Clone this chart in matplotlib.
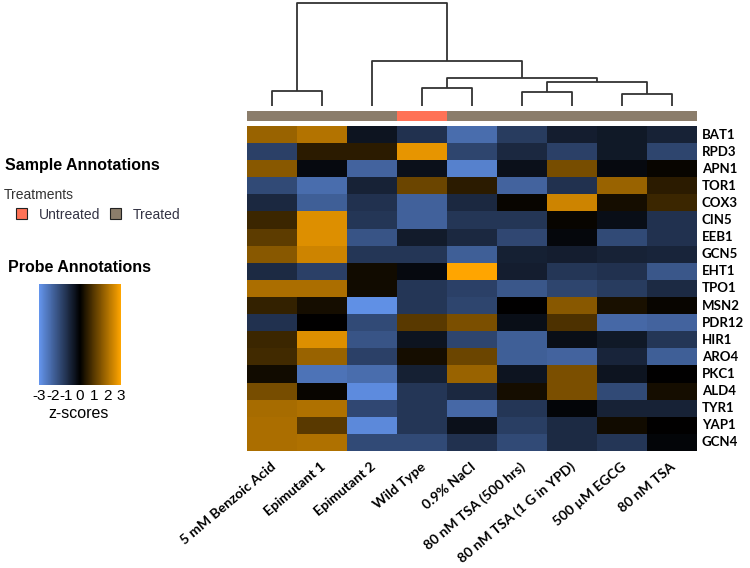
import numpy as np
import matplotlib
matplotlib.use("Agg")
import matplotlib.pyplot as plt
from matplotlib.colors import LinearSegmentedColormap, ListedColormap
from matplotlib.cm import ScalarMappable
from matplotlib.colors import Normalize
from matplotlib.patches import Rectangle

W, H = 750, 568

samples = [
    "5 mM Benzoic Acid",
    "Epimutant 1",
    "Epimutant 2",
    "Wild Type",
    "0.9% NaCl",
    "80 nM TSA (500 hrs)",
    "80 nM TSA (1 G in YPD)",
    "500 \u00b5M EGCG",
    "80 nM TSA",
]
treatments = ["Treated", "Treated", "Treated", "Untreated", "Treated",
              "Treated", "Treated", "Treated", "Treated"]
genes = ["BAT1", "RPD3", "APN1", "TOR1", "COX3", "CIN5", "EEB1", "GCN5", "EHT1",
         "TPO1", "MSN2", "PDR12", "HIR1", "ARO4", "PKC1", "ALD4", "TYR1", "YAP1", "GCN4"]

# z-scores, one row per gene, columns in sample order
zscores = np.array([
    [1.8, 2.1, -0.4, -1.0, -2.2, -1.2, -0.6, -0.5, -0.7],
    [-1.3, 0.5, 0.5, 2.7, -1.4, -0.8, -1.3, -0.5, -1.4],
    [1.6, -0.2, -2.0, -0.35, -2.6, -0.35, 1.4, -0.2, 0.1],
    [-1.5, -2.2, -0.7, 1.25, 0.5, -2.0, -1.0, 1.8, 0.5],
    [-0.8, -1.9, -1.0, -1.95, -0.8, 0.1, 2.4, 0.25, 0.7],
    [0.7, 2.6, -1.1, -1.95, -1.1, -1.1, 0.1, -0.3, -1.0],
    [1.1, 2.6, -1.7, -0.55, -0.8, -1.45, -0.15, -1.5, -1.0],
    [1.6, 2.4, -1.1, -1.1, -1.9, -0.65, -0.6, -0.7, -0.75],
    [-0.85, -1.3, 0.2, -0.2, 3.0, -0.6, -1.1, -1.0, -1.75],
    [2.0, 2.0, 0.2, -1.1, -1.3, -1.75, -1.4, -1.2, -0.85],
    [0.6, 0.25, -2.9, -1.1, -1.4, 0.0, 1.6, 0.3, 0.1],
    [-1.0, 0.0, -1.5, 1.05, 1.45, -0.3, 0.9, -2.1, -2.0],
    [0.7, 2.6, -1.7, -0.4, -1.4, -1.9, -0.3, -0.5, -1.1],
    [0.75, 1.8, -1.3, 0.25, 1.25, -1.9, -2.0, -0.75, -1.9],
    [0.2, -2.3, -2.2, -0.65, 1.8, -0.4, 1.45, -0.4, 0.0],
    [1.4, 0.1, -2.8, -1.1, -0.8, 0.25, 1.45, -1.5, 0.25],
    [1.95, 2.05, -1.45, -1.1, -2.1, -1.1, -0.1, -0.7, -0.7],
    [2.0, 1.05, -2.75, -1.1, -0.35, -1.25, -0.85, 0.2, 0.0],
    [2.0, 2.05, -1.5, -1.5, -1.0, -1.5, -0.85, -1.1, -0.1],
])

# column dendrogram merges: (left id, right id, height); leaves are 0..8
merges = [
    (0, 1, 46),
    (3, 4, 55),
    (5, 6, 43),
    (7, 8, 36),
    (11, 12, 71),
    (10, 13, 85),
    (2, 14, 136),
    (9, 15, 309),
]

zscore_ticks = [-3, -2, -1, 0, 1, 2, 3]

BLUE = "#6495ED"
ORANGE = "#FFA500"
TREATED = "#8B7D6B"
UNTREATED = "#FF7256"
cmap = LinearSegmentedColormap.from_list("bo", [BLUE, "black", ORANGE])


def rect(x0, y0, x1, y1):
    return [x0 / W, 1 - y1 / H, (x1 - x0) / W, (y1 - y0) / H]


fig = plt.figure(figsize=(W / 100, H / 100), dpi=100)

# heatmap
ax = fig.add_axes(rect(247, 126, 697, 451))
ax.imshow(zscores, cmap=cmap, vmin=-3, vmax=3, aspect="auto", interpolation="nearest")
ax.set_axis_off()
for i, g in enumerate(genes):
    ax.text(len(samples) - 0.5 + 0.1, i, g, ha="left", va="center",
            fontsize=9.5, fontweight="bold", family="Lato")
for j, s in enumerate(samples):
    ax.text(j + 0.12, len(genes) - 0.5 + 0.55, s, ha="right", va="top", rotation=40,
            fontsize=10, fontweight="bold", family="Lato")

# annotation bar
ax_ann = fig.add_axes(rect(247, 111, 697, 121))
codes = [[0 if t == "Treated" else 1 for t in treatments]]
ax_ann.imshow(codes, cmap=ListedColormap([TREATED, UNTREATED]), vmin=0, vmax=1,
              aspect="auto", interpolation="nearest")
ax_ann.set_axis_off()

# dendrogram
ax_d = fig.add_axes(rect(247, 3, 697, 106))
xpos = {i: float(i) for i in range(len(samples))}
ypos = {i: 0.0 for i in range(len(samples))}
for k, (a, b, h) in enumerate(merges):
    node = len(samples) + k
    ax_d.plot([xpos[a], xpos[a], xpos[b], xpos[b]], [ypos[a], h, h, ypos[b]],
              color="#333333", lw=1.3, clip_on=False, solid_capstyle="butt")
    xpos[node] = (xpos[a] + xpos[b]) / 2
    ypos[node] = h
ax_d.set_xlim(-0.5, len(samples) - 0.5)
ax_d.set_ylim(0, merges[-1][2])
ax_d.set_axis_off()

# legends
fig.text(5 / W, 1 - 166 / H, "Sample Annotations", fontsize=11.5, fontweight="bold",
         family="Liberation Sans", va="center")
fig.text(4 / W, 1 - 195 / H, "Treatments", fontsize=10, color="#333333",
         family="Liberation Sans", va="center")
for x0, label, col in [(16, "Untreated", UNTREATED), (110, "Treated", TREATED)]:
    fig.patches.append(Rectangle((x0 / W, 1 - 219 / H), 11 / W, 11 / H, facecolor=col,
                                 edgecolor="#222222", lw=0.8, transform=fig.transFigure))
    fig.text((x0 + 23) / W, 1 - 215 / H, label, fontsize=10, color="#333344",
             family="Liberation Sans", va="center")

fig.text(8 / W, 1 - 268 / H, "Probe Annotations", fontsize=11.5, fontweight="bold",
         family="Liberation Sans", va="center")
cax = fig.add_axes(rect(39, 284, 121, 385))
cb = fig.colorbar(ScalarMappable(norm=Normalize(-3, 3), cmap=cmap), cax=cax,
                  orientation="horizontal", ticks=zscore_ticks)
cb.outline.set_visible(False)
cax.tick_params(length=0, pad=3, labelsize=11)
cax.set_xticklabels([str(v) for v in zscore_ticks], family="Liberation Sans")
fig.text(79 / W, 1 - 413 / H, "z-scores", fontsize=11.5, ha="center", va="center",
         family="Liberation Sans")

fig.savefig("out.png", dpi=100)
